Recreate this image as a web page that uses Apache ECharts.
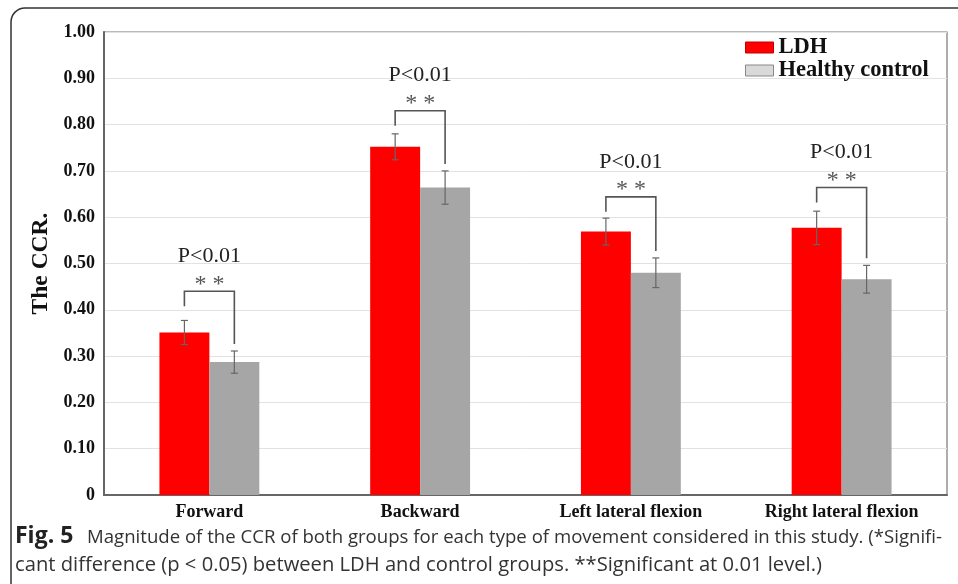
<!DOCTYPE html>
<html>
<head>
<meta charset="utf-8">
<script src="https://cdn.jsdelivr.net/npm/echarts@6/dist/echarts.min.js"></script>
<style>
  html, body { margin: 0; padding: 0; background: #fff; }
  #chart { width: 958px; height: 584px; }
</style>
</head>
<body>
<div id="chart"></div>
<script>
// Movement types
const categories = ['Forward', 'Backward', 'Left lateral flexion', 'Right lateral flexion'];
// Mean CCR and standard deviation per group
const ldhMean = [0.351, 0.752, 0.569, 0.577];
const ldhSd = [0.026, 0.028, 0.029, 0.036];
const ctrlMean = [0.287, 0.664, 0.480, 0.466];
const ctrlSd = [0.024, 0.036, 0.032, 0.030];
// Height of each significance bracket and its labels
const bracketTop = [0.440, 0.830, 0.644, 0.664];
const pLabels = ['P<0.01', 'P<0.01', 'P<0.01', 'P<0.01'];
const starLabels = ['* *', '* *', '* *', '* *'];
// Y axis tick values
const yTicks = [0, 0.1, 0.2, 0.3, 0.4, 0.5, 0.6, 0.7, 0.8, 0.9, 1.0];

const BAR_FRAC = 0.237;
const SERIF = '"Times New Roman", "Liberation Serif", serif';
const SANS = '"Open Sans", "Noto Sans", sans-serif';

const chart = echarts.init(document.getElementById('chart'), null, { renderer: 'canvas' });

function halfBar(api) {
  return api.size([1, 0])[0] * BAR_FRAC / 2;
}

function errorBarItem(side) {
  return function (params, api) {
    const idx = api.value(0);
    const mean = api.value(1);
    const sd = api.value(2);
    const off = side * halfBar(api);
    const top = api.coord([idx, mean + sd]);
    const bot = api.coord([idx, mean - sd]);
    const x = top[0] + off;
    const cap = 3.5;
    const style = { stroke: '#666', lineWidth: 1.2 };
    return {
      type: 'group',
      children: [
        { type: 'line', shape: { x1: x, y1: top[1], x2: x, y2: bot[1] }, style },
        { type: 'line', shape: { x1: x - cap, y1: top[1], x2: x + cap, y2: top[1] }, style },
        { type: 'line', shape: { x1: x - cap, y1: bot[1], x2: x + cap, y2: bot[1] }, style }
      ]
    };
  };
}

function bracketItem(params, api) {
  const i = params.dataIndex;
  const idx = api.value(0);
  const topVal = api.value(1);
  const hb = halfBar(api);
  const topPt = api.coord([idx, topVal]);
  const ctrlTop = api.coord([idx, ctrlMean[i] + ctrlSd[i]]);
  const xl = topPt[0] - hb;
  const xr = topPt[0] + hb;
  const yt = topPt[1];
  const yl = yt + 15;
  const yr = ctrlTop[1] - 7;
  const cx = (xl + xr) / 2;
  return {
    type: 'group',
    children: [
      {
        type: 'polyline',
        shape: { points: [[xl, yl], [xl, yt], [xr, yt], [xr, yr]] },
        style: { stroke: '#555', lineWidth: 1.6, fill: null }
      },
      {
        type: 'text',
        style: {
          x: cx, y: yt + 5, text: starLabels[i], fill: '#555',
          font: '24px ' + SERIF, textAlign: 'center', textVerticalAlign: 'bottom'
        }
      },
      {
        type: 'text',
        style: {
          x: cx, y: yt - 24, text: pLabels[i], fill: '#222',
          font: '22px ' + SERIF, textAlign: 'center', textVerticalAlign: 'bottom'
        }
      }
    ]
  };
}

const option = {
  animation: false,
  backgroundColor: '#fff',
  grid: {
    left: 104, right: 11, top: 32, bottom: 89,
    show: true, borderColor: '#777', borderWidth: 1.2, backgroundColor: 'transparent'
  },
  legend: {
    orient: 'vertical',
    left: 740, top: 31,
    itemWidth: 28, itemHeight: 11, itemGap: 0,
    textStyle: { fontFamily: SERIF, fontWeight: 'bold', fontSize: 22.5, color: '#111', lineHeight: 21 },
    data: [
      { name: 'LDH', icon: 'rect', itemStyle: { color: '#ff0000', borderColor: '#c00000', borderWidth: 1 } },
      { name: 'Healthy control', icon: 'rect', itemStyle: { color: '#d9d9d9', borderColor: '#888', borderWidth: 1 } }
    ]
  },
  xAxis: {
    type: 'category',
    data: categories,
    axisTick: { show: false },
    axisLine: { lineStyle: { color: '#666', width: 2 } },
    axisLabel: { fontFamily: SERIF, fontWeight: 'bold', fontSize: 18, color: '#111', margin: 8 }
  },
  yAxis: {
    type: 'value',
    min: yTicks[0], max: yTicks[yTicks.length - 1], interval: 0.1,
    name: 'The CCR.',
    nameLocation: 'middle',
    nameGap: 43,
    nameRotate: 90,
    nameTextStyle: { fontFamily: SERIF, fontWeight: 'bold', fontSize: 23.5, color: '#111' },
    axisLine: { show: true, lineStyle: { color: '#666', width: 2 } },
    axisTick: { show: false },
    splitLine: { lineStyle: { color: '#e2e2e2', width: 1 } },
    axisLabel: {
      fontFamily: SERIF, fontWeight: 'bold', fontSize: 18, color: '#111', margin: 9,
      formatter: v => (v === 0 ? '0' : v.toFixed(2))
    }
  },
  series: [
    {
      name: 'LDH', type: 'bar', data: ldhMean,
      barWidth: (BAR_FRAC * 100) + '%', barGap: '0%',
      itemStyle: { color: '#ff0000' }
    },
    {
      name: 'Healthy control', type: 'bar', data: ctrlMean,
      barWidth: (BAR_FRAC * 100) + '%', barGap: '0%',
      itemStyle: { color: '#a6a6a6' }
    },
    {
      type: 'custom', name: 'ldhErr', z: 5,
      renderItem: errorBarItem(-1),
      data: ldhMean.map((m, i) => [i, m, ldhSd[i]])
    },
    {
      type: 'custom', name: 'ctrlErr', z: 5,
      renderItem: errorBarItem(1),
      data: ctrlMean.map((m, i) => [i, m, ctrlSd[i]])
    },
    {
      type: 'custom', name: 'brackets', z: 6,
      renderItem: bracketItem,
      data: bracketTop.map((v, i) => [i, v])
    }
  ],
  graphic: [
    {
      type: 'rect', z: -10, silent: true,
      shape: { x: 11, y: 8, width: 1000, height: 640, r: 14 },
      style: { fill: null, stroke: '#333', lineWidth: 1.5 }
    },
    {
      type: 'text', left: 15, top: 525,
      style: { fontFamily: SANS, fontWeight: 'bold', fontSize: 23, fill: '#222', text: 'Fig. 5' }
    },
    {
      type: 'text', left: 87, top: 528,
      style: {
        fontFamily: SANS, fontSize: 18.6, fill: '#333',
        text: 'Magnitude of the CCR of both groups for each type of movement considered in this study. (*Signifi-'
      }
    },
    {
      type: 'text', left: 15, top: 555,
      style: {
        fontFamily: SANS, fontSize: 20.2, fill: '#333',
        text: 'cant difference (p < 0.05) between LDH and control groups. **Significant at 0.01 level.)'
      }
    }
  ]
};

chart.setOption(option);
</script>
</body>
</html>
